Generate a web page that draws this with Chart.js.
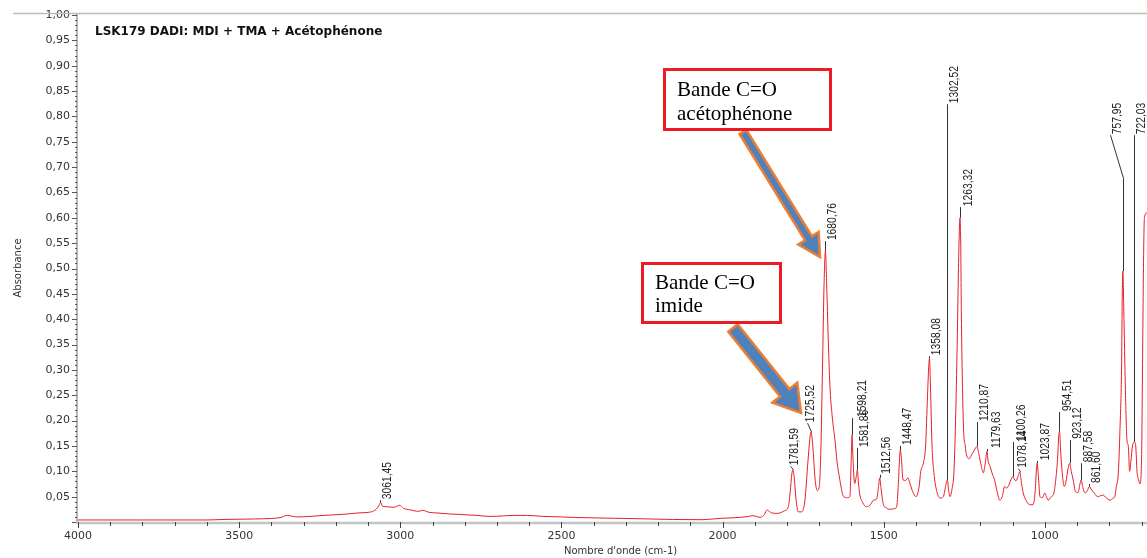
<!DOCTYPE html>
<html lang="fr">
<head>
<meta charset="UTF-8">
<title>LSK179 DADI: MDI + TMA + Acétophénone</title>
<script src="https://cdn.jsdelivr.net/npm/chart.js"></script>
<style>
    html, body { margin: 0; padding: 0; background: #fff; }
    #wrap { width: 1147px; height: 558px; position: relative; }
</style>
</head>
<body>
<div id="wrap"><canvas id="irChart"></canvas></div>

<script>
// IR spectrum: wavenumber (cm-1) -> absorbance
const wavenumbers = [
    4000, 3800, 3600, 3550, 3450, 3400, 3370, 3352, 3320, 3280, 3240, 3180, 3128, 3090, 3075, 3066,
    3061.45, 3055, 3040, 3020, 3002, 2990, 2970, 2943, 2931, 2910, 2890, 2850, 2819, 2760, 2724, 2680,
    2653, 2605, 2558, 2500, 2463, 2389, 2272, 2156, 2064, 2030, 2000, 1947, 1920, 1906, 1890, 1883,
    1870, 1862, 1855, 1848, 1830, 1808, 1796, 1790, 1785, 1781.59, 1778, 1772, 1765, 1755, 1745, 1735,
    1729, 1725.52, 1720, 1713, 1706, 1700, 1695, 1690, 1685, 1680.76, 1677, 1672, 1667, 1660, 1651, 1645,
    1636, 1626, 1615, 1605, 1601, 1598.21, 1595, 1590, 1585, 1581.86, 1578, 1575, 1565, 1553, 1540, 1532,
    1522, 1516, 1512.56, 1508, 1502, 1492, 1481, 1470, 1460, 1455, 1448.47, 1445, 1440, 1432, 1425, 1418,
    1410, 1400, 1390, 1385, 1377, 1370, 1364, 1360, 1358.08, 1355, 1350, 1343, 1335, 1325, 1315, 1308,
    1302.52, 1298, 1294, 1288, 1282, 1277, 1272, 1268, 1265, 1263.32, 1261, 1259, 1256, 1252, 1247, 1243,
    1235, 1225, 1215, 1210.87, 1205, 1197, 1191, 1185, 1179.63, 1176, 1170, 1163, 1156, 1148, 1140, 1132,
    1125, 1118, 1110, 1104, 1100.26, 1090, 1082, 1078.14, 1072, 1067, 1060, 1053, 1045, 1037, 1030, 1026,
    1023.87, 1020, 1015, 1008, 1000, 995, 990, 980, 972, 965, 960, 957, 954.51, 950, 945, 940,
    935, 928, 923.12, 918, 912, 905, 897, 891, 887.58, 882, 875, 868, 861.6, 855, 850, 841,
    834, 827, 819, 810, 798, 788, 783, 778, 772, 766, 762, 759.5, 757.95, 755, 750, 745,
    741, 737, 733, 728, 722.03, 718, 714, 709, 705, 700, 697, 694, 691, 683
];
const absorbance = [
    0.004, 0.004, 0.004, 0.005, 0.006, 0.007, 0.009, 0.013, 0.010, 0.011, 0.013, 0.015, 0.018, 0.020, 0.025, 0.033,
    0.039, 0.031, 0.030, 0.029, 0.033, 0.027, 0.024, 0.021, 0.023, 0.019, 0.018, 0.016, 0.015, 0.013, 0.011, 0.012,
    0.013, 0.013, 0.011, 0.010, 0.009, 0.008, 0.0066, 0.005, 0.0045, 0.006, 0.0074, 0.009, 0.011, 0.0125, 0.010, 0.009,
    0.015, 0.024, 0.021, 0.018, 0.017, 0.022, 0.030, 0.060, 0.095, 0.103, 0.090, 0.045, 0.020, 0.020, 0.040, 0.120,
    0.165, 0.178, 0.150, 0.085, 0.062, 0.070, 0.140, 0.300, 0.470, 0.535, 0.470, 0.360, 0.270, 0.210, 0.160, 0.120,
    0.083, 0.052, 0.048, 0.050, 0.120, 0.172, 0.120, 0.076, 0.090, 0.103, 0.075, 0.057, 0.038, 0.030, 0.035, 0.043,
    0.045, 0.070, 0.087, 0.065, 0.037, 0.028, 0.025, 0.026, 0.029, 0.070, 0.142, 0.125, 0.083, 0.082, 0.087, 0.075,
    0.060, 0.050, 0.070, 0.100, 0.116, 0.150, 0.250, 0.310, 0.323, 0.270, 0.150, 0.090, 0.060, 0.047, 0.050, 0.070,
    0.083, 0.060, 0.050, 0.065, 0.100, 0.200, 0.350, 0.500, 0.580, 0.600, 0.550, 0.410, 0.280, 0.181, 0.150, 0.132,
    0.125, 0.135, 0.146, 0.149, 0.135, 0.110, 0.097, 0.115, 0.139, 0.120, 0.110, 0.095, 0.083, 0.060, 0.043, 0.050,
    0.070, 0.067, 0.075, 0.085, 0.089, 0.081, 0.092, 0.099, 0.075, 0.057, 0.045, 0.037, 0.034, 0.034, 0.060, 0.105,
    0.116, 0.090, 0.050, 0.048, 0.057, 0.050, 0.043, 0.050, 0.057, 0.090, 0.130, 0.170, 0.178, 0.130, 0.090, 0.070,
    0.078, 0.105, 0.116, 0.100, 0.083, 0.060, 0.058, 0.075, 0.083, 0.068, 0.057, 0.062, 0.070, 0.063, 0.060, 0.052,
    0.050, 0.052, 0.053, 0.048, 0.043, 0.047, 0.050, 0.070, 0.097, 0.200, 0.300, 0.460, 0.495, 0.420, 0.260, 0.160,
    0.150, 0.100, 0.120, 0.150, 0.158, 0.150, 0.100, 0.083, 0.075, 0.120, 0.300, 0.500, 0.600, 0.610
];

// picked peaks
const peakPositions = [3061.45, 1781.59, 1725.52, 1680.76, 1598.21, 1581.86, 1512.56, 1448.47, 1358.08, 1302.52,
    1263.32, 1210.87, 1179.63, 1100.26, 1078.14, 1023.87, 954.51, 923.12, 887.58, 861.6, 757.95, 722.03];
const peakLabels = ['3061,45', '1781,59', '1725,52', '1680,76', '1598,21', '1581,86', '1512,56', '1448,47', '1358,08', '1302,52',
    '1263,32', '1210,87', '1179,63', '1100,26', '1078,14', '1023,87', '954,51', '923,12', '887,58', '861,60', '757,95', '722,03'];

const xRange = [683, 4000];
const yRange = [0, 1];
const xTickValues = [4000, 3500, 3000, 2500, 2000, 1500, 1000];
const yTickValues = [0, 0.05, 0.1, 0.15, 0.2, 0.25, 0.3, 0.35, 0.4, 0.45, 0.5,
    0.55, 0.6, 0.65, 0.7, 0.75, 0.8, 0.85, 0.9, 0.95, 1];

const titleText = 'LSK179 DADI: MDI + TMA + Acétophénone';
const xTitle = "Nombre d'onde (cm-1)";
const yTitle = 'Absorbance';
const boxTexts = [['Bande C=O', 'acétophénone'], ['Bande C=O', 'imide']];

// label placement: knee/top in absorbance units, ldx/tdx in px
const labelLayout = [
    { top: 0.043, ldx: 0, tdx: 2.5 },
    { top: 0.110, ldx: -3, tdx: 0 },
    { top: 0.195, ldx: -4, tdx: -1 },
    { top: 0.554, ldx: 0, tdx: 2.5 },
    { top: 0.205, ldx: 0, tdx: 5.5 },
    { top: 0.146, ldx: 0, tdx: 2.5 },
    { top: 0.093, ldx: 0, tdx: 2.5 },
    { top: 0.150, ldx: 0, tdx: 2.5 },
    { top: 0.327, ldx: 0, tdx: 2.5 },
    { top: 0.824, ldx: 0, tdx: 2.5 },
    { top: 0.621, ldx: 0, tdx: 4 },
    { top: 0.197, ldx: 0, tdx: 3 },
    { top: 0.144, ldx: 0, tdx: 5 },
    { top: 0.158, ldx: 0, tdx: 4.5 },
    { top: 0.105, ldx: -2, tdx: 0 },
    { top: 0.120, ldx: 0, tdx: 3.5 },
    { top: 0.217, ldx: 0, tdx: 3 },
    { top: 0.162, ldx: 0, tdx: 3 },
    { top: 0.116, ldx: 0, tdx: 3 },
    { top: 0.075, ldx: 0, tdx: 2.5 },
    { knee: 0.678, top: 0.763, ldx: -13, tdx: 3 },
    { top: 0.763, ldx: 0, tdx: 3 }
];

function absAt(wn) {
    for (let i = 0; i < wavenumbers.length - 1; i++) {
        const a = wavenumbers[i], b = wavenumbers[i + 1];
        if (wn <= a && wn >= b) {
            const t = (a - wn) / (a - b);
            return absorbance[i] + t * (absorbance[i + 1] - absorbance[i]);
        }
    }
    return 0;
}

function blockArrow(ctx, x0, y0, x1, y1, shaft, head, headLen) {
    const ang = Math.atan2(y1 - y0, x1 - x0);
    const len = Math.hypot(x1 - x0, y1 - y0);
    ctx.save();
    ctx.translate(x0, y0);
    ctx.rotate(ang);
    ctx.beginPath();
    ctx.moveTo(0, -shaft / 2);
    ctx.lineTo(len - headLen, -shaft / 2);
    ctx.lineTo(len - headLen, -head / 2);
    ctx.lineTo(len, 0);
    ctx.lineTo(len - headLen, head / 2);
    ctx.lineTo(len - headLen, shaft / 2);
    ctx.lineTo(0, shaft / 2);
    ctx.closePath();
    ctx.fillStyle = '#4f81bd';
    ctx.fill();
    ctx.lineWidth = 2.5;
    ctx.lineJoin = 'miter';
    ctx.strokeStyle = '#ed7d31';
    ctx.stroke();
    ctx.restore();
}

function textBox(ctx, x, y, w, h, lines, lineY) {
    ctx.save();
    ctx.fillStyle = '#fff';
    ctx.fillRect(x, y, w, h);
    ctx.lineWidth = 3;
    ctx.strokeStyle = '#ed1c24';
    ctx.strokeRect(x + 1.5, y + 1.5, w - 3, h - 3);
    ctx.fillStyle = '#000';
    ctx.font = '21px "Liberation Serif", "Times New Roman", serif';
    ctx.textBaseline = 'alphabetic';
    ctx.textAlign = 'left';
    lines.forEach((t, i) => ctx.fillText(t, x + 14, lineY[i]));
    ctx.restore();
}

const overlay = {
    id: 'overlay',
    beforeDatasetsDraw(chart) {
        const ctx = chart.ctx;
        const xs = chart.scales.x, ys = chart.scales.y;
        const area = chart.chartArea;
        ctx.save();
        // frame line on top
        ctx.strokeStyle = '#bdbdb0';
        ctx.lineWidth = 1.5;
        ctx.beginPath();
        ctx.moveTo(13, 13.5);
        ctx.lineTo(chart.width, 13.5);
        ctx.stroke();

        // y axis
        ctx.strokeStyle = '#b4b4b4';
        ctx.lineWidth = 2;
        ctx.beginPath();
        ctx.moveTo(area.left - 1, area.top - 2);
        ctx.lineTo(area.left - 1, area.bottom);
        ctx.stroke();
        ctx.strokeStyle = '#555';
        ctx.lineWidth = 1;
        for (let i = 0; i <= 100; i++) {
            const y = Math.round(ys.getPixelForValue(i / 100)) + 0.5;
            const len = i % 5 === 0 ? 5 : 2;
            ctx.beginPath();
            ctx.moveTo(area.left - 1 - len, y);
            ctx.lineTo(area.left - 1, y);
            ctx.stroke();
        }

        // x axis
        ctx.strokeStyle = '#c4c4c4';
        ctx.lineWidth = 2.5;
        ctx.beginPath();
        ctx.moveTo(area.left - 2, area.bottom + 1);
        ctx.lineTo(area.right, area.bottom + 1);
        ctx.stroke();
        ctx.strokeStyle = '#444';
        ctx.lineWidth = 1;
        for (let wn = 700; wn <= xRange[1]; wn += 100) {
            const x = Math.round(xs.getPixelForValue(wn)) + 0.5;
            const len = wn % 500 === 0 ? 6 : 4;
            ctx.beginPath();
            ctx.moveTo(x, area.bottom);
            ctx.lineTo(x, area.bottom + len);
            ctx.stroke();
        }
        ctx.restore();
    },
    afterDatasetsDraw(chart) {
        const ctx = chart.ctx;
        const xs = chart.scales.x, ys = chart.scales.y;
        ctx.save();

        // peak labels with leader lines
        peakPositions.forEach((wn, i) => {
            const lay = labelLayout[i];
            const px = xs.getPixelForValue(wn);
            const py = ys.getPixelForValue(absAt(wn));
            const topY = ys.getPixelForValue(lay.top);
            ctx.strokeStyle = '#333';
            ctx.lineWidth = 1;
            ctx.beginPath();
            ctx.moveTo(Math.round(px) + 0.5, py);
            if (lay.knee !== undefined) {
                const kneeY = ys.getPixelForValue(lay.knee);
                ctx.lineTo(Math.round(px) + 0.5, kneeY);
            }
            ctx.lineTo(Math.round(px + lay.ldx) + 0.5, topY);
            ctx.stroke();

            ctx.save();
            ctx.translate(px + lay.ldx + lay.tdx - 2, topY - 1);
            ctx.rotate(-Math.PI / 2);
            ctx.scale(0.79, 1);
            ctx.fillStyle = '#222';
            ctx.font = '13px "Liberation Sans", Arial, sans-serif';
            ctx.textAlign = 'left';
            ctx.textBaseline = 'top';
            ctx.fillText(peakLabels[i], 0, 0);
            ctx.restore();
        });

        // title
        ctx.fillStyle = '#111';
        ctx.font = 'bold 12px "DejaVu Sans", sans-serif';
        ctx.textAlign = 'left';
        ctx.textBaseline = 'alphabetic';
        ctx.fillText(titleText, 95, 35);

        // axis titles
        ctx.fillStyle = '#333';
        ctx.font = '10px "DejaVu Sans", sans-serif';
        ctx.fillText(xTitle, 564, 554);
        ctx.save();
        ctx.translate(21, 268);
        ctx.rotate(-Math.PI / 2);
        ctx.textAlign = 'center';
        ctx.fillText(yTitle, 0, 0);
        ctx.restore();

        // annotations
        blockArrow(ctx, 743, 132, 820, 257, 8, 24, 22);
        blockArrow(ctx, 733, 328, 801, 413, 12, 32, 26);
        textBox(ctx, 663, 68, 169, 63, boxTexts[0], [96, 119.5]);
        textBox(ctx, 641, 262, 141, 62, boxTexts[1], [289, 312]);

        ctx.restore();
    }
};

const ctx = document.getElementById('irChart').getContext('2d');
new Chart(ctx, {
    type: 'line',
    data: {
        datasets: [{
            label: yTitle,
            data: wavenumbers.map((w, i) => ({ x: w, y: absorbance[i] })),
            borderColor: 'rgb(232, 30, 38)',
            borderWidth: 1,
            pointRadius: 0,
            fill: false,
            cubicInterpolationMode: 'monotone'
        }]
    },
    options: {
        responsive: true,
        maintainAspectRatio: false,
        animation: false,
        layout: { padding: { top: 15, right: 0, bottom: 0, left: 0 } },
        plugins: {
            legend: { display: false },
            tooltip: { enabled: false }
        },
        scales: {
            x: {
                type: 'linear',
                reverse: true,
                min: xRange[0],
                max: xRange[1],
                afterBuildTicks: (s) => { s.ticks = xTickValues.map(v => ({ value: v })); },
                afterFit: (s) => { s.height = 36; s.paddingLeft = 0; s.paddingRight = 0; },
                grid: { display: false, drawTicks: false },
                border: { display: false },
                ticks: {
                    autoSkip: false,
                    maxRotation: 0,
                    padding: 8,
                    color: '#333',
                    font: { family: 'DejaVu Sans', size: 11 },
                    callback: (v) => String(v)
                }
            },
            y: {
                min: yRange[0],
                max: yRange[1],
                afterBuildTicks: (s) => { s.ticks = yTickValues.map(v => ({ value: v })); },
                afterFit: (s) => { s.width = 78; s.paddingTop = 0; s.paddingBottom = 0; },
                grid: { display: false, drawTicks: false },
                border: { display: false },
                ticks: {
                    autoSkip: false,
                    padding: 8,
                    color: '#333',
                    font: { family: 'DejaVu Sans', size: 11 },
                    callback: (v) => (v < 0.001 ? '' : v.toFixed(2).replace('.', ','))
                }
            }
        }
    },
    plugins: [overlay]
});
</script>
</body>
</html>
